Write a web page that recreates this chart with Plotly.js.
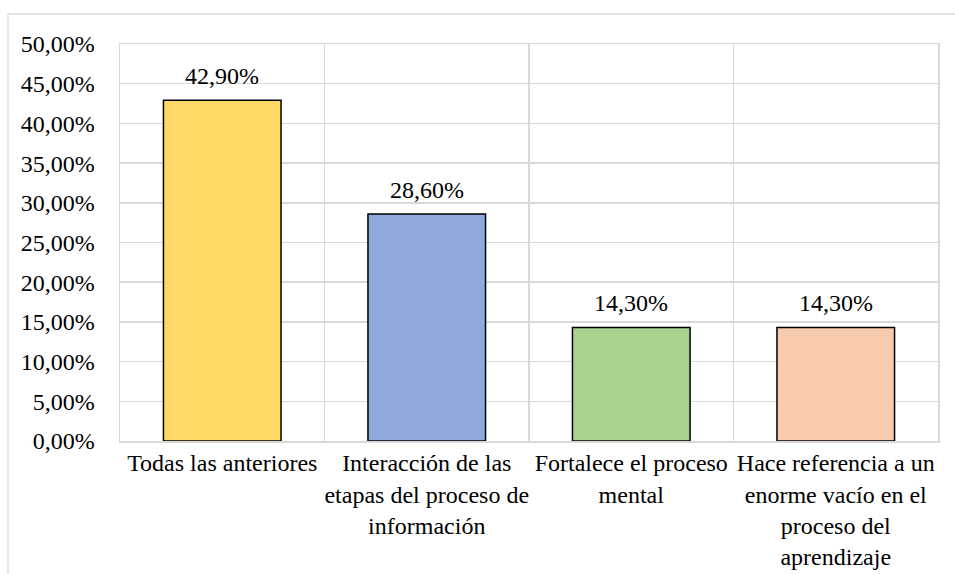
<!DOCTYPE html>
<html>
<head>
<meta charset="utf-8">
<script src="https://cdn.plot.ly/plotly-3.0.1.min.js"></script>
<style>html,body{margin:0;padding:0;background:#fff;}#chart{width:955px;height:574px;}</style>
</head>
<body>
<div id="chart"></div>
<script>
const categories = [
  "Todas las anteriores",
  "Interacción de las<br>etapas del proceso de<br>información",
  "Fortalece el proceso<br>mental",
  "Hace referencia a un<br>enorme vacío en el<br>proceso del<br>aprendizaje"
];
const values = [0.429, 0.286, 0.143, 0.143];
const valueLabels = ["42,90%", "28,60%", "14,30%", "14,30%"];
const barColors = ["#FFD966", "#8EA9DB", "#A9D18E", "#F8CBAD"];
const yTicks = [0, 0.05, 0.10, 0.15, 0.20, 0.25, 0.30, 0.35, 0.40, 0.45, 0.50];

const font = {family: "Times New Roman", size: 24, color: "#000"};

const trace = {
  type: "bar",
  x: categories,
  y: values,
  marker: {color: barColors, line: {color: "#000", width: 1.5}},
  width: 0.575,
  hoverinfo: "skip"
};

const L = 120, R = 955 - 938, T = 44, B = 574 - 441;
const pw = 955 - L - R, ph = 574 - T - B;

const annotations = categories.map((c, i) => ({
  x: c, y: values[i], xref: "x", yref: "y",
  text: valueLabels[i], showarrow: false,
  yanchor: "bottom", yshift: 9, font: font
}));

const layout = {
  width: 955, height: 574,
  margin: {l: L, r: R, t: T, b: B},
  separators: ",.",
  font: font,
  paper_bgcolor: "#fff",
  plot_bgcolor: "#fff",
  showlegend: false,
  xaxis: {
    type: "category", tickson: "boundaries", tickangle: 0, showgrid: true, gridcolor: "#d9d9d9", gridwidth: 1.5,
    ticks: "", showline: true, mirror: true, linecolor: "#d9d9d9", linewidth: 1.5, zeroline: false,
    tickfont: font, automargin: false
  },
  yaxis: {
    range: [0, 0.5], tickvals: yTicks, tickformat: ".2%", showgrid: true, gridcolor: "#d9d9d9", gridwidth: 1.5,
    zeroline: false, showline: true, mirror: true, linecolor: "#d9d9d9", linewidth: 1.5, ticks: "",
    ticklabelstandoff: 19, tickfont: font, automargin: false
  },
  annotations: annotations,
  shapes: [
    {type: "line", xref: "paper", yref: "paper",
     x0: (8 - L) / pw, x1: (1000 - L) / pw, y0: (441 - 14) / ph, y1: (441 - 14) / ph,
     line: {color: "#d9d9d9", width: 1.3}},
    {type: "line", xref: "paper", yref: "paper",
     x0: (8 - L) / pw, x1: (8 - L) / pw, y0: (441 - 14) / ph, y1: (441 - 620) / ph,
     line: {color: "#d9d9d9", width: 1.3}}
  ]
};

Plotly.newPlot("chart", [trace], layout, {displayModeBar: false, staticPlot: true});
</script>
</body>
</html>
